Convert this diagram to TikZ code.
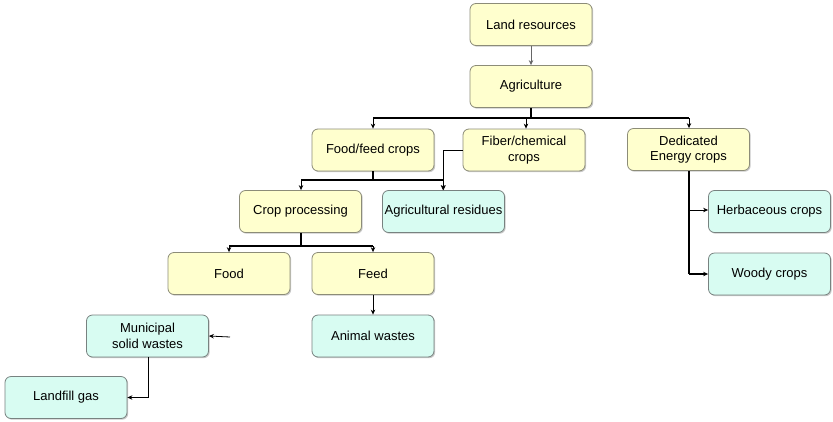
\documentclass[tikz,border=0pt]{standalone}
\usepackage{fontspec}
\setmainfont{Liberation Sans}
\usetikzlibrary{arrows.meta,shadows}
\definecolor{yfill}{RGB}{255,255,206}
\definecolor{yline}{RGB}{140,140,120}
\definecolor{cfill}{RGB}{216,252,242}
\definecolor{cline}{RGB}{120,130,128}
\tikzset{
  box/.style={draw, rounded corners=6pt, minimum width=122pt, minimum height=42pt,
    inner sep=1pt, align=center, font=\fontsize{13}{15.5}\selectfont, line width=0.8pt,
    drop shadow={shadow xshift=1.2pt, shadow yshift=-1.2pt, fill=black!35, opacity=0.6}},
  ybox/.style={box, fill=yfill, draw=yline},
  cbox/.style={box, fill=cfill, draw=cline},
  arr/.style={-{Stealth[length=5pt,width=4.5pt]}, line width=0.8pt},
  bus/.style={line width=2pt},
  mbus/.style={line width=1.3pt},
}
\begin{document}
\begin{tikzpicture}[x=1pt,y=-1pt]
\useasboundingbox[fill=white] (0,0) rectangle (833,421);
% nodes
\node[ybox] (land) at (531,24.5) {Land resources};
\node[ybox] (agri) at (531,86.5) {Agriculture};
\node[ybox] (ffc) at (373,150) {Food/feed crops};
\node[ybox] (fib) at (524,150) {Fiber/chemical\\crops};
\node[ybox] (ded) at (688.5,149.5) {Dedicated\\Energy crops};
\node[ybox] (cp) at (300.5,211.5) {Crop processing};
\node[cbox] (ar) at (443.5,211.5) {Agricultural residues};
\node[cbox] (herb) at (769.5,211.5) {Herbaceous crops};
\node[ybox] (food) at (229,273.5) {Food};
\node[ybox] (feed) at (373,273.5) {Feed};
\node[cbox] (woody) at (769.5,274) {Woody crops};
\node[cbox] (mun) at (147.5,336) {Municipal\\solid wastes};
\node[cbox] (anim) at (373,336) {Animal wastes};
\node[cbox] (land2) at (66,397.5) {Landfill gas};
% coordinates
\coordinate (b0) at (531,118);
\coordinate (b1) at (373,118);
\coordinate (b2) at (526,118);
\coordinate (b3) at (689,118);
\coordinate (c0) at (373,180);
\coordinate (c1) at (301,180);
\coordinate (c2) at (443,180);
\coordinate (d0) at (301,246);
\coordinate (d1) at (229,246);
\coordinate (d2) at (373,246);
\coordinate (mfree) at (230,337);
% connectors
\draw[arr, draw=black!60] (land) -- (agri);
\draw[bus] (agri.south) -- (b0);
\draw[bus] (b1) -- (b3);
\draw[arr] (b1) -- (b1 |- ffc.north);
\draw[arr] (b2) -- (b2 |- fib.north);
\draw[arr] (b3) -- (b3 |- ded.north);
\draw[mbus] (ffc.south) -- (c0);
\draw[mbus] (c1) -- (c2);
\draw[arr] (c1) -- (c1 |- cp.north);
\draw[arr] (c2) -- (c2 |- ar.north);
\draw[arr] (fib.west) -| (ar.north);
\draw[mbus] (cp.south -| d0) -- (d0);
\draw[mbus] (d1) -- (d2);
\draw[arr] (d1) -- (food.north);
\draw[arr] (d2) -- (feed.north);
\draw[arr] (feed) -- (anim);
\draw[arr] (mfree) -- (mun.east);
\draw[arr] (mun.south -| 148,0) |- (land2.east);
\draw[line width=1.4pt] (ded.south -| b3) -- (689,274);
\draw[arr] (689,210) -- (herb.west |- 0,210);
\draw[arr, line width=1.4pt] (689,274) -- (woody.west);
\end{tikzpicture}
\end{document}
